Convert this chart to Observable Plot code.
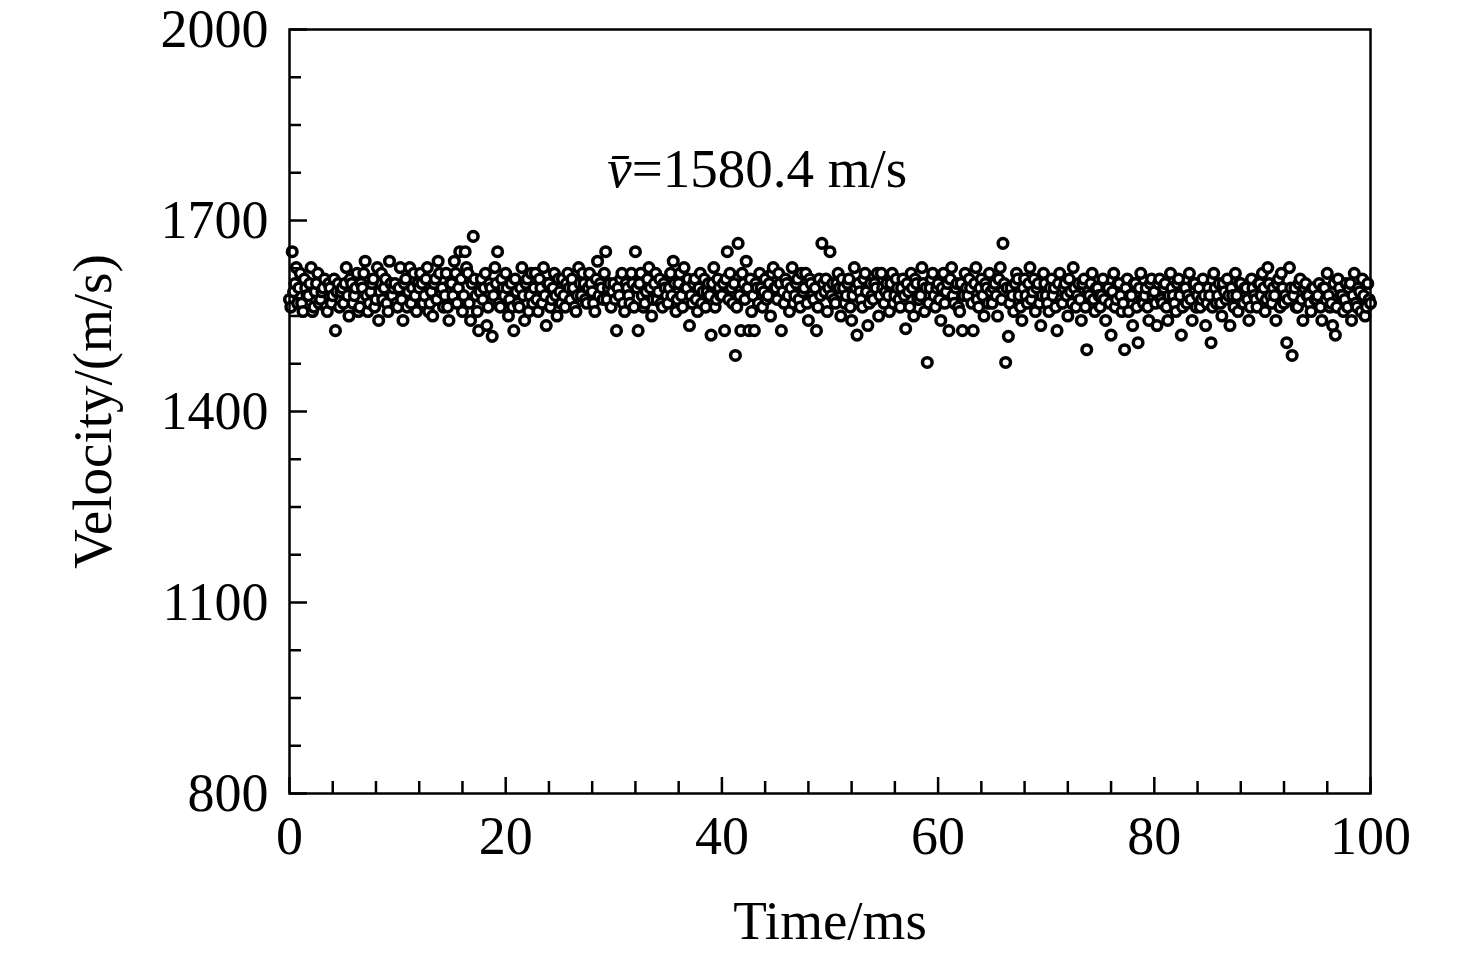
<!DOCTYPE html>
<html><head><meta charset="utf-8">
<script src="https://cdn.jsdelivr.net/npm/d3@7"></script>
<script src="https://cdn.jsdelivr.net/npm/@observablehq/plot@0.6"></script>
<style>body{margin:0;background:#fff}</style>
</head><body><div id="chart"></div>
<script>
// sampling interval between successive velocity readings (ms)
const timeStep = 0.25;
// velocity readings (m/s) on the sample grid t = i*timeStep
const velocity = [
1576,1651,1601,1570,1617,1557,1594,1582,1626,1564,1601,1570,1588,1608,1557,1594,1582,1527,1601,1588,
1570,1626,1550,1601,1582,1617,1564,1594,1636,1557,1588,1608,1576,1543,1617,1594,1570,1636,1582,1601,
1564,1626,1543,1608,1588,1570,1617,1557,1594,1601,1582,1626,1570,1550,1608,1636,1588,1564,1617,1543,
1601,1636,1570,1651,1557,1651,1617,1543,1675,1582,1527,1608,1594,1535,1601,1518,1626,1651,1564,1594,
1617,1550,1601,1527,1588,1564,1626,1543,1608,1582,1570,1617,1557,1594,1626,1535,1601,1576,1617,1550,
1588,1608,1564,1617,1576,1594,1557,1626,1582,1601,1570,1617,1588,1557,1636,1601,1576,1651,1594,1564,
1601,1527,1582,1617,1557,1594,1570,1601,1651,1527,1617,1564,1588,1626,1550,1601,1576,1608,1564,1594,
1570,1617,1636,1557,1601,1582,1626,1594,1535,1570,1608,1557,1617,1588,1564,1601,1520,1626,1576,1594,
1582,1527,1651,1617,1570,1488,1664,1527,1601,1636,1527,1557,1527,1594,1617,1564,1608,1582,1550,1626,
1594,1617,1527,1570,1601,1557,1626,1582,1608,1564,1588,1617,1543,1601,1576,1527,1608,1664,1588,1557,
1651,1601,1570,1617,1550,1594,1582,1608,1543,1626,1520,1588,1564,1617,1535,1601,1576,1594,1550,1617,
1570,1601,1557,1617,1582,1594,1564,1608,1530,1588,1617,1550,1601,1576,1626,1557,1477,1594,1617,1564,
1601,1543,1617,1588,1527,1626,1570,1601,1557,1527,1617,1582,1594,1527,1626,1564,1608,1550,1594,1617,
1570,1601,1550,1626,1664,1477,1518,1594,1557,1617,1582,1543,1608,1570,1626,1588,1557,1601,1535,1617,
1582,1557,1608,1594,1527,1617,1570,1601,1550,1588,1626,1564,1601,1543,1608,1497,1582,1617,1557,1594,
1564,1608,1543,1594,1520,1617,1576,1601,1557,1497,1608,1582,1535,1601,1508,1617,1570,1594,1543,1608,
1588,1535,1608,1570,1601,1543,1617,1582,1557,1608,1520,1594,1570,1617,1543,1601,1582,1564,1608,1535,
1594,1508,1617,1570,1601,1550,1588,1608,1535,1582,1617,1557,1601,1570,1594,1543,1608,1582,1564,1601,
1617,1557,1626,1582,1594,1543,1608,1617,1570,1508,1626,1488,1594,1564,1608,1543,1601,1582,1557,1594,
1576,1601,1543,1594,1617,1564,1535,1520,1608,1582,1557,1601,1594,1543,1617,1564,1588,1608,1550,1601,
1570
];
// velocity readings (m/s) between grid samples, t = (i + 0.5)*timeStep
const velocityMid = [
1564,1588,1626,1594,1570,1608,1582,1601,1557,1588,1617,1576,1594,1564,1601,1570,1608,1588,1564,1594,
1601,1582,1608,1570,1594,1557,1601,1617,1582,1570,1601,1564,1626,1588,1576,1608,1557,1601,1594,1570,
1594,1576,1601,1564,1626,1594,1582,1601,1617,1570,1608,1557,1588,1601,1576,1617,1594,1582,1564,1601,
1582,1617,1594,1608,1582,1626,1570,1601,1608,1557,1588,1576,1617,1564,1594,1582,1601,1570,1608,1582,
1594,1576,1564,1608,1570,1594,1582,1601,1557,1617,1594,1576,1608,1570,1582,1601,1564,1594,1582,1608,
1570,1582,1601,1594,1608,1564,1582,1601,1617,1576,1594,1601,1570,1608,1582,1594,1617,1576,1601,1588,
1576,1594,1608,1570,1601,1582,1617,1564,1594,1601,1582,1570,1608,1594,1576,1617,1588,1570,1601,1582,
1594,1582,1601,1576,1617,1564,1594,1608,1582,1601,1576,1594,1570,1608,1588,1582,1601,1564,1608,1582,
1601,1608,1576,1594,1601,1564,1582,1617,1576,1594,1608,1582,1601,1570,1594,1588,1576,1601,1617,1594,
1576,1601,1588,1608,1582,1594,1570,1601,1576,1617,1594,1570,1608,1582,1594,1564,1582,1601,1608,1594,
1582,1576,1601,1594,1608,1570,1601,1564,1582,1594,1601,1576,1608,1588,1570,1582,1601,1617,1582,1594,
1588,1582,1601,1570,1608,1576,1594,1582,1601,1564,1594,1608,1576,1582,1601,1594,1570,1608,1582,1594,
1576,1594,1570,1601,1608,1582,1594,1564,1601,1582,1594,1608,1570,1601,1576,1594,1582,1601,1570,1588,
1594,1582,1608,1576,1601,1594,1570,1582,1601,1608,1564,1594,1582,1601,1576,1608,1594,1570,1582,1601,
1570,1594,1582,1564,1601,1576,1594,1582,1608,1570,1594,1582,1576,1601,1564,1588,1601,1576,1594,1582,
1582,1576,1594,1570,1588,1564,1601,1582,1570,1594,1557,1582,1601,1564,1594,1576,1582,1564,1601,1582,
1570,1601,1576,1594,1564,1582,1594,1570,1601,1582,1564,1594,1582,1576,1601,1564,1594,1576,1582,1570,
1582,1564,1594,1582,1570,1601,1576,1582,1594,1564,1582,1601,1570,1594,1576,1564,1594,1576,1601,1582,
1594,1576,1601,1570,1582,1601,1564,1594,1582,1576,1594,1582,1564,1601,1576,1594,1582,1570,1594,1576,
1582,1564,1594,1576,1582,1570,1601,1564,1594,1582,1576,1564,1601,1582,1570,1594,1557,1582,1564,1576
];
const xDomain = [0, 100];
const yDomain = [800, 2000];
const xMajorTicks = [0, 20, 40, 60, 80, 100];
const xMinorTicks = [4, 8, 12, 16, 24, 28, 32, 36, 44, 48, 52, 56, 64, 68, 72, 76, 84, 88, 92, 96];
const yMajorTicks = [800, 1100, 1400, 1700, 2000];
const yMinorTicks = [875, 950, 1025, 1175, 1250, 1325, 1475, 1550, 1625, 1775, 1850, 1925];
const xTitle = "Time/ms";
const yTitle = "Velocity/(m/s)";
const meanSymbol = "v\u0304";
const meanText = "=1580.4 m/s";

const data = [
  ...velocity.map((v, i) => ({t: i * timeStep, v})),
  ...velocityMid.map((v, i) => ({t: (i + 0.5) * timeStep, v}))
].sort((a, b) => a.t - b.t);

const W = 1476, H = 956;
const mL = 289, mR = 106, mT = 29, mB = 163;
const plotW = W - mL - mR, plotH = H - mT - mB;
const fs = 54, fsTitle = 55;

const svg = Plot.plot({
  width: W, height: H,
  marginLeft: mL, marginRight: mR, marginTop: mT, marginBottom: mB,
  style: {fontFamily: "'Liberation Serif', 'Times New Roman', serif", color: "black", background: "white"},
  x: {domain: xDomain},
  y: {domain: yDomain},
  marks: [
    Plot.dot(data, {x: "t", y: "v", r: 4.8, stroke: "black", fill: "white", strokeWidth: 3.5}),
    Plot.ruleX(xMinorTicks, {x: d => d, insetTop: plotH - 12, stroke: "black", strokeWidth: 2.5}),
    Plot.ruleX(xMajorTicks, {x: d => d, insetTop: plotH - 16, stroke: "black", strokeWidth: 2.5}),
    Plot.ruleY(yMinorTicks, {y: d => d, insetRight: plotW - 12, stroke: "black", strokeWidth: 2.5}),
    Plot.ruleY(yMajorTicks, {y: d => d, insetRight: plotW - 18, stroke: "black", strokeWidth: 2.5}),
    Plot.frame({stroke: "black", strokeWidth: 2.5}),
    Plot.axisX(xMajorTicks, {tickSize: 0, tickPadding: 22, fontSize: fs, label: null, tickFormat: d3.format("d")}),
    Plot.axisY(yMajorTicks, {tickSize: 0, tickPadding: 21, fontSize: fs, label: null, tickFormat: d3.format("d")}),
    Plot.text([xTitle], {text: d => d, frameAnchor: "bottom", lineAnchor: "bottom", dy: 145, fontSize: fsTitle, fill: "black"}),
    Plot.text([yTitle], {text: d => d, frameAnchor: "left", textAnchor: "middle", lineAnchor: "middle", rotate: -90, dx: -196, fontSize: fsTitle, fill: "black"}),
    Plot.text([meanSymbol + meanText], {x: 29.4, y: 1752, text: d => d, textAnchor: "start", lineAnchor: "bottom", fontSize: fsTitle, fill: "black", className: "annot"})
  ]
});

d3.select(svg).selectAll(".annot text").each(function() {
  const t = d3.select(this);
  t.text(null);
  t.append("tspan").attr("font-style", "italic").text(meanSymbol);
  t.append("tspan").text(meanText);
});

document.getElementById("chart").appendChild(svg);
</script>
</body></html>
